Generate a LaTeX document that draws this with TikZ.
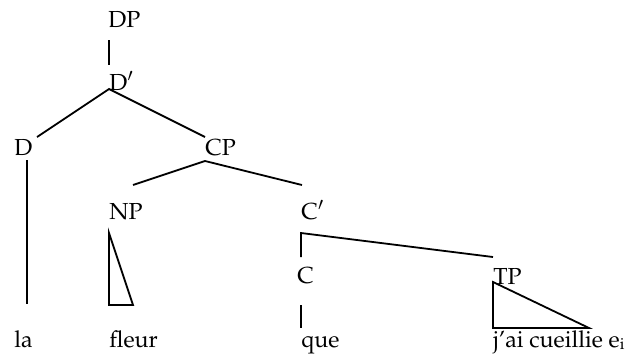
\documentclass[tikz,border=0pt]{standalone}
\usepackage[T1]{fontenc}
\usepackage{mathpazo}
\begin{document}
\begin{tikzpicture}[x=0.5pt,y=-0.5pt,
  lab/.style={anchor=base west,inner sep=0pt,font=\fontsize{11.6}{14}\selectfont},
  br/.style={line width=0.9pt,line join=miter}]
\useasboundingbox (0,0) rectangle (630,354);
% labels
\node[lab] (DP) at (108,27) {DP};
\node[lab] (Dbar) at (109,90) {D$'$};
\node[lab] (D) at (14,155) {D};
\node[lab] (CP) at (205,155) {CP};
\node[lab] (NP) at (109,219) {NP};
\node[lab] (Cbar) at (301,219) {C$'$};
\node[lab] (C) at (297,283) {C};
\node[lab] (TP) at (493,284) {TP};
\node[lab] (la) at (14,347) {la};
\node[lab] (fleur) at (109,347) {fleur};
\node[lab] (que) at (301,347) {que};
\node[lab] (jai) at (493,347) {j'ai cueillie e{\footnotesize\raisebox{-1pt}{i}}};
% coordinates
\coordinate (dpb) at (109,40);
\coordinate (dbt) at (109,65);
\coordinate (dbapex) at (109,89);
\coordinate (dleft) at (37,137);
\coordinate (dright) at (205,137);
\coordinate (dtop) at (27,160);
\coordinate (dbot) at (27,304);
\coordinate (cpapex) at (205,161);
\coordinate (cpl) at (133,185);
\coordinate (cpr) at (302,185);
\coordinate (npt) at (109,233);
\coordinate (npbl) at (109,305);
\coordinate (npbr) at (133,305);
\coordinate (cbtl) at (301,233);
\coordinate (cbbl) at (301,257);
\coordinate (cbr) at (493,257);
\coordinate (tpt) at (493,282);
\coordinate (tpbl) at (493,328);
\coordinate (tpbr) at (589,328);
\coordinate (qt) at (301,305);
\coordinate (qb) at (301,328);
% branches
\draw[br] (dpb) -- (dbt);
\draw[br] (dleft) -- (dbapex) -- (dright);
\draw[br] (dtop) -- (dbot);
\draw[br] (cpl) -- (cpapex) -- (cpr);
\draw[br] (npt) -- (npbl) -- (npbr) -- cycle;
\draw[br] (cbbl) -- (cbtl) -- (cbr);
\draw[br] (tpt) -- (tpbl) -- (tpbr) -- cycle;
\draw[br] (qt) -- (qb);
\end{tikzpicture}
\end{document}
